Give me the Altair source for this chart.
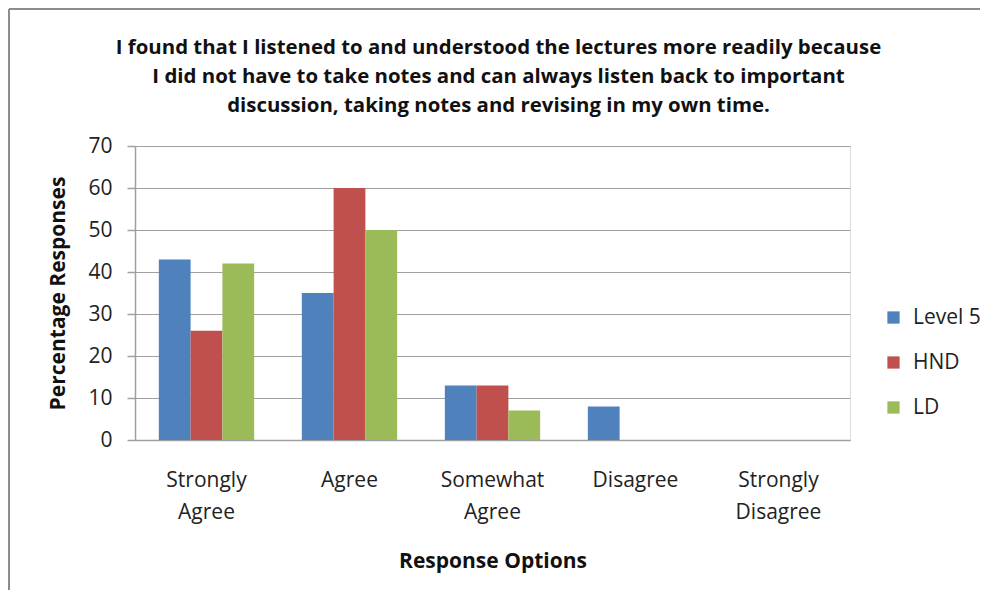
import altair as alt
import pandas as pd

categories = ["Strongly Agree", "Agree", "Somewhat Agree", "Disagree", "Strongly Disagree"]
series = ["Level 5", "HND", "LD"]
level5 = [43, 35, 13, 8, 0]
hnd = [26, 60, 13, 0, 0]
ld = [42, 50, 7, 0, 0]
colors = ["#4F81BD", "#C0504D", "#9BBB59"]
title_lines = [
    "I found that I listened to and understood the lectures more readily because",
    "I did not have to take notes and can always listen back to important",
    "discussion, taking notes and revising in my own time.",
]

rows = []
for s, vals in zip(series, [level5, hnd, ld]):
    for c, v in zip(categories, vals):
        rows.append({"Response": c, "Group": s, "Value": v})
df = pd.DataFrame(rows)

W, H = 715, 294
FONT = "Open Sans"
LABEL_SIZE = 21

label_expr = (
    "datum.value == 'Strongly Agree' ? ['Strongly','Agree'] : "
    "datum.value == 'Somewhat Agree' ? ['Somewhat','Agree'] : "
    "datum.value == 'Strongly Disagree' ? ['Strongly','Disagree'] : datum.value"
)

bars = alt.Chart(df).mark_bar().encode(
    x=alt.X(
        "Response:N",
        sort=categories,
        scale=alt.Scale(paddingInner=1 / 3, paddingOuter=1 / 6),
        axis=alt.Axis(
            title="Response Options",
            labelAngle=0,
            labelExpr=label_expr,
            labelFontSize=LABEL_SIZE,
            labelFont=FONT,
            labelColor="#222222",
            labelLineHeight=32,
            labelPadding=29,
            labelBaseline="top",
            ticks=False,
            domainColor="#a0a0a0",
            domainWidth=1.5,
            titleFont=FONT,
            titleFontSize=21,
            titleFontWeight="bold",
            titlePadding=28,
            titleColor="#111111",
        ),
    ),
    xOffset=alt.XOffset("Group:N", sort=series, scale=alt.Scale(paddingInner=0, paddingOuter=0)),
    y=alt.Y(
        "Value:Q",
        scale=alt.Scale(domain=[0, 70]),
        axis=alt.Axis(
            title="Percentage Responses",
            values=[0, 10, 20, 30, 40, 50, 60, 70],
            labelFontSize=LABEL_SIZE,
            labelFont=FONT,
            labelColor="#222222",
            labelPadding=15,
            tickSize=8,
            tickColor="#a0a0a0",
            tickWidth=1.5,
            domainColor="#a0a0a0",
            domainWidth=1.5,
            gridColor="#a0a0a0",
            gridWidth=1.2,
            titleFont=FONT,
            titleFontSize=21,
            titleFontWeight="bold",
            titlePadding=19,
            titleColor="#111111",
        ),
    ),
    color=alt.Color(
        "Group:N",
        sort=series,
        scale=alt.Scale(domain=series, range=colors),
        legend=alt.Legend(
            title=None,
            orient="none",
            legendX=748,
            legendY=161,
            symbolType="square",
            symbolSize=150,
            symbolStrokeWidth=0,
            labelFont=FONT,
            labelFontSize=LABEL_SIZE,
            labelColor="#222222",
            rowPadding=23,
            labelOffset=9,
        ),
    ),
)

border_data = alt.Data(values=[{"k": 1}])
top_border = alt.Chart(border_data).mark_rule(color="#8c8c8c", strokeWidth=2).encode(
    x=alt.value(-126), x2=alt.value(W + 140), y=alt.value(-137)
)
left_border = alt.Chart(border_data).mark_rule(color="#8c8c8c", strokeWidth=2).encode(
    x=alt.value(-126), y=alt.value(-137), y2=alt.value(H + 170)
)

chart = (
    alt.layer(bars, top_border, left_border)
    .properties(
        width=W,
        height=H,
        autosize=alt.AutoSizeParams(type="none"),
        padding={"left": 127, "top": 138, "right": 130, "bottom": 150},
        title=alt.TitleParams(
            text=title_lines,
            font=FONT,
            fontSize=20.4,
            fontWeight="bold",
            color="#111111",
            anchor="middle",
            lineHeight=29,
            offset=0,
            dy=108,
            dx=6,
            frame="group",
        ),
    )
    .configure_view(stroke=None)
    .configure(background="white")
)

chart.save("out.html", embed_options={"renderer": "svg", "actions": False})
